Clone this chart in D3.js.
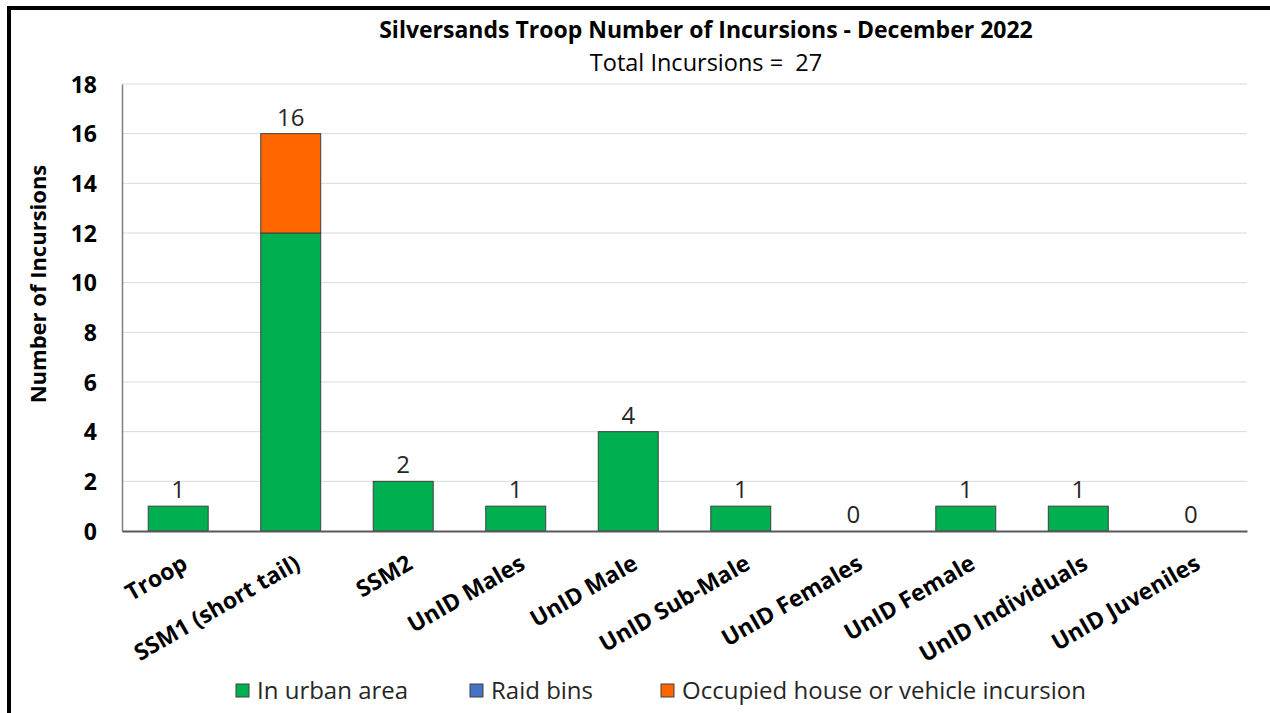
<!DOCTYPE html>
<html><head><meta charset="utf-8">
<script src="https://cdn.jsdelivr.net/npm/d3@7"></script>
<style>body{margin:0;background:#fff}svg{display:block}text{font-family:"Open Sans",sans-serif;white-space:pre}</style>
</head><body><svg id="c" width="1270" height="713"></svg>
<script>
const categories = ["Troop","SSM1 (short tail)","SSM2","UnID Males","UnID Male","UnID Sub-Male","UnID Females","UnID Female","UnID Individuals","UnID Juveniles"];
const seriesNames = ["In urban area","Raid bins","Occupied house or vehicle incursion"];
const urban = [1,12,2,1,4,1,0,1,1,0];
const raidBins = [0,0,0,0,0,0,0,0,0,0];
const occupied = [0,4,0,0,0,0,0,0,0,0];
const yTicks = [0,2,4,6,8,10,12,14,16,18];
const colors = ["#00b050","#4472c4","#ff6600"];
const title = "Silversands Troop Number of Incursions - December 2022";
const subtitle = "Total Incursions =  27";

const svg = d3.select("#c");
const W=1270,H=713;
const m={l:122,r:23,t:84,b:182};
const x=d3.scaleBand().domain(categories).range([m.l,W-m.r]).paddingInner(0.467).paddingOuter(0.233);
const y=d3.scaleLinear().domain([0,18]).range([H-m.b,m.t]);

// frame
svg.append("rect").attr("x",9).attr("y",8).attr("width",W+20).attr("height",H+20).attr("fill","none").attr("stroke","#000").attr("stroke-width",4);

// grid
svg.append("g").selectAll("line").data(yTicks.filter(d=>d>0)).join("line")
 .attr("x1",m.l).attr("x2",W-m.r).attr("y1",d=>y(d)).attr("y2",d=>y(d)).attr("stroke","#d9d9d9").attr("stroke-width",1);

// y axis
const ya=svg.append("g").attr("transform",`translate(${m.l},0)`).call(d3.axisLeft(y).tickValues(yTicks).tickSize(0).tickPadding(25));
ya.select(".domain").attr("stroke","#7f7f7f").attr("stroke-width",1.5);
ya.selectAll("text").attr("font-size",23).attr("font-weight","bold").attr("fill","#000").attr("font-family","Open Sans").attr("dy","0.36em");

// stacked data
const rows=categories.map((c,i)=>({cat:c,[seriesNames[0]]:urban[i],[seriesNames[1]]:raidBins[i],[seriesNames[2]]:occupied[i]}));
const stack=d3.stack().keys(seriesNames)(rows);
svg.append("g").selectAll("g").data(stack).join("g").attr("fill",(d,i)=>colors[i])
 .selectAll("rect").data(d=>d.filter(p=>p[1]-p[0]>0)).join("rect")
 .attr("x",d=>x(d.data.cat)).attr("width",x.bandwidth())
 .attr("y",d=>y(d[1])).attr("height",d=>y(d[0])-y(d[1]))
 .attr("stroke","#404040").attr("stroke-width",1);

// x axis
const xa=svg.append("g").attr("transform",`translate(0,${y(0)})`).call(d3.axisBottom(x).tickSize(0));
xa.select(".domain").attr("stroke","#595959").attr("stroke-width",2);
xa.selectAll("text").attr("font-size",23).attr("font-weight","bold").attr("fill","#000").attr("font-family","Open Sans")
 .attr("text-anchor","end").attr("x",0).attr("y",0).attr("dy",0).attr("transform","translate(11,37) rotate(-30)");

// totals
const totals=categories.map((c,i)=>urban[i]+raidBins[i]+occupied[i]);
svg.append("g").selectAll("text").data(categories).join("text")
 .attr("x",d=>x(d)+x.bandwidth()/2).attr("y",(d,i)=>y(totals[i])-8)
 .attr("text-anchor","middle").attr("font-size",24).attr("fill","#262626").text((d,i)=>totals[i]);

// titles
svg.append("text").attr("x",706).attr("y",38).attr("text-anchor","middle").attr("font-size",23).attr("font-weight","bold").text(title);
svg.append("text").attr("x",706).attr("y",71).attr("text-anchor","middle").attr("font-size",23.5).text(subtitle);
svg.append("text").attr("transform","translate(46,284) rotate(-90)").attr("text-anchor","middle").attr("font-size",22).attr("font-weight","bold").text("Number of Incursions");

// legend
const lx=[236,470,661];
const lg=svg.append("g").selectAll("g").data(seriesNames).join("g").attr("transform",(d,i)=>`translate(${lx[i]},691)`);
lg.append("rect").attr("x",0).attr("y",-7).attr("width",13).attr("height",13).attr("fill",(d,i)=>colors[i]).attr("stroke","#404040");
lg.append("text").attr("x",21).attr("y",8).attr("font-size",24).attr("fill","#262626").text(d=>d);
</script></body></html>
